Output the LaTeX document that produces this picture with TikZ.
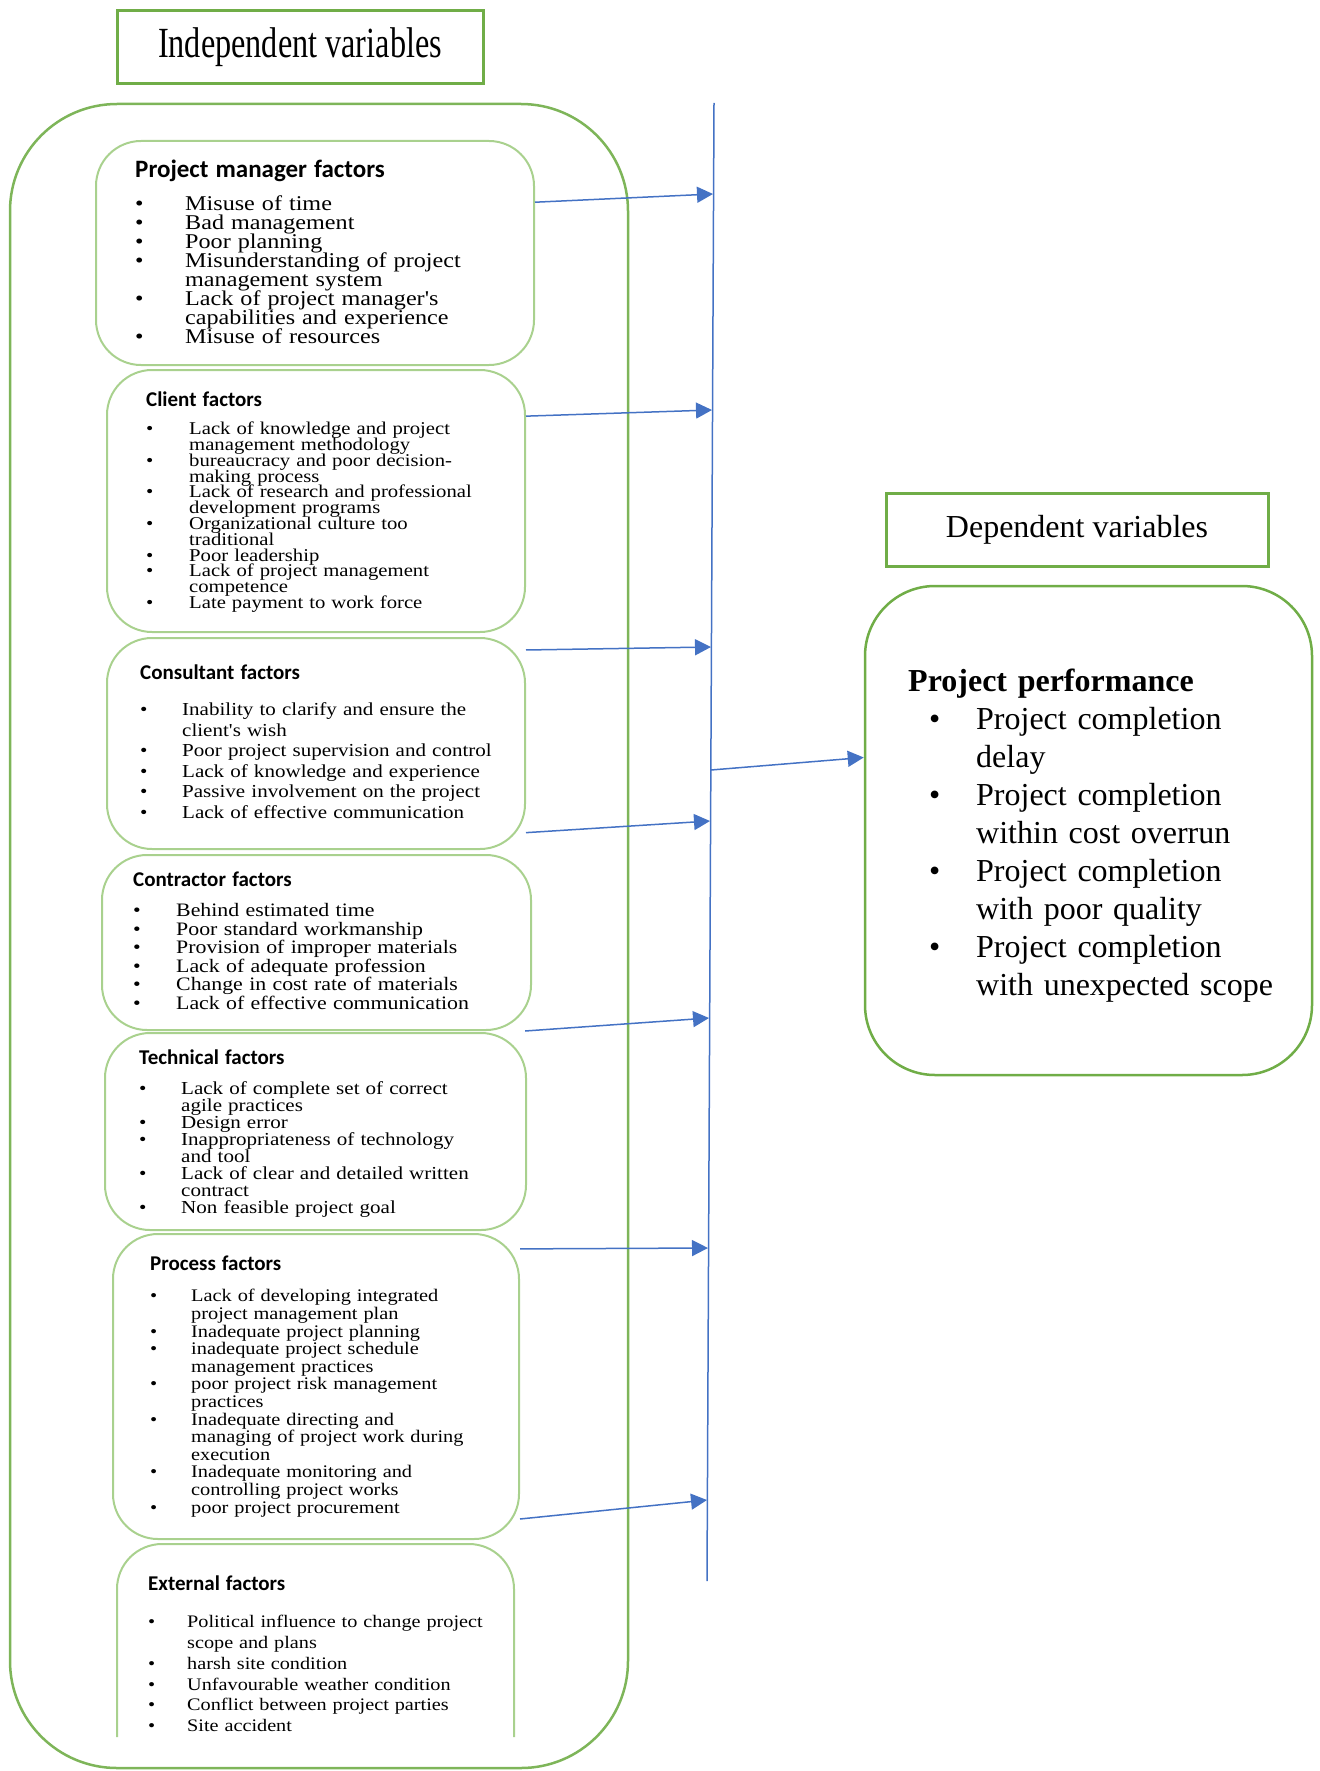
\documentclass[tikz,border=0pt]{standalone}
\usepackage{fontspec}
\setmainfont{Liberation Serif}
\newfontfamily\headfont{Carlito}
\newfontfamily\itemfont[FakeStretch=1.15]{Liberation Serif}
\newfontfamily\tallfont[FakeStretch=0.75]{Liberation Serif}
\usetikzlibrary{arrows.meta}
\definecolor{vargreen}{HTML}{70AD47}
\definecolor{palegreen}{HTML}{A9D18E}
\definecolor{linkblue}{HTML}{4472C4}
\newlength{\bulind}
\newlength{\bulpad}
\newcommand{\fitem}[1]{\par\hangindent=\bulind\hangafter=1\noindent\makebox[\bulind][l]{\hspace{\bulpad}\textbullet}#1\par}
\newcommand{\fhead}[3]{{\headfont\bfseries\fontsize{#1}{#1}\selectfont #2\par}\vspace{#3pt}}
\tikzset{
  varbox/.style={draw=vargreen, line width=3pt, minimum width=#1, minimum height=73pt, inner sep=0pt},
  factorbox/.style={draw=palegreen, line width=2pt, rounded corners=45pt, inner sep=0pt},
  factortext/.style n args={3}{anchor=north west, inner sep=0pt, text width=420pt,
    font=\itemfont\fontsize{#1}{#2}\selectfont\setlength{\bulind}{#3pt}\setlength{\bulpad}{0pt}\setlength{\parindent}{0pt}\setlength{\lineskiplimit}{-100pt}},
  link/.style={draw=linkblue, line width=1.5pt, -{Triangle[length=16pt,width=16pt]}},
}
\begin{document}
\begin{tikzpicture}[x=1pt,y=-1pt]
  \useasboundingbox (0,0) rectangle (1319,1771);
  \node[varbox=366pt, font=\tallfont\fontsize{43}{43}\selectfont] (indep) at (300,47.5) {Independent variables};
  \node[draw=vargreen!90, line width=2.5pt, rounded corners=107pt, minimum width=618pt, minimum height=1664pt] (factors) at (319,936) {};

  \node[factorbox, minimum width=438pt, minimum height=224pt] (pm) at (315,253) {};
  \node[factorbox, minimum width=418pt, minimum height=262pt] (client) at (316,501) {};
  \node[factorbox, minimum width=418pt, minimum height=211pt] (cons) at (316,743.5) {};
  \node[factorbox, minimum width=429pt, minimum height=175pt] (contr) at (316.5,942.5) {};
  \node[factorbox, minimum width=421pt, minimum height=197pt] (tech) at (315.5,1131.5) {};
  \node[factorbox, minimum width=406pt, minimum height=305pt] (proc) at (316,1386.5) {};
  \draw[draw=palegreen, line width=2pt, rounded corners=45pt] (117,1737) -- (117,1544) -- (514,1544) -- (514,1737);

  \node[factortext={21}{19}{50}] (pmtext) at (135,160) {\fhead{25}{Project manager factors}{14}
    \fitem{Misuse of time}
    \fitem{Bad management}
    \fitem{Poor planning}
    \fitem{Misunderstanding of project\newline management system}
    \fitem{Lack of project manager's\newline capabilities and experience}
    \fitem{Misuse of resources}};
  \node[factortext={18}{15.8}{43}] (clienttext) at (146,392) {\fhead{21}{Client factors}{12}
    \fitem{Lack of knowledge and project\newline management methodology}
    \fitem{bureaucracy and poor decision-\newline making process}
    \fitem{Lack of research and professional\newline development programs}
    \fitem{Organizational culture too\newline traditional}
    \fitem{Poor leadership}
    \fitem{Lack of project management\newline competence}
    \fitem{Late payment to work force}};
  \node[factortext={18.3}{20.6}{42}] (constext) at (140,665) {\fhead{21}{Consultant factors}{15}
    \fitem{Inability to clarify and ensure the\newline client's wish}
    \fitem{Poor project supervision and control}
    \fitem{Lack of knowledge and experience}
    \fitem{Passive involvement on the project}
    \fitem{Lack of effective communication}};
  \node[factortext={19}{18.5}{43}] (contrtext) at (133,872) {\fhead{21}{Contractor factors}{11.5}
    \fitem{Behind estimated time}
    \fitem{Poor standard workmanship}
    \fitem{Provision of improper materials}
    \fitem{Lack of adequate profession}
    \fitem{Change in cost rate of materials}
    \fitem{Lack of effective communication}};
  \node[factortext={18.3}{17}{42}] (techtext) at (139,1050) {\fhead{21}{Technical factors}{13}
    \fitem{Lack of complete set of correct\newline agile practices}
    \fitem{Design error}
    \fitem{Inappropriateness of technology\newline and tool}
    \fitem{Lack of clear and detailed written\newline contract}
    \fitem{Non feasible project goal}};
  \node[factortext={17.7}{17.6}{41}] (proctext) at (150,1256) {\fhead{21}{Process factors}{13.5}
    \fitem{Lack of developing integrated\newline project management plan}
    \fitem{Inadequate project planning}
    \fitem{inadequate project schedule\newline management practices}
    \fitem{poor project risk management\newline practices}
    \fitem{Inadequate directing and\newline managing of project work during\newline execution}
    \fitem{Inadequate monitoring and\newline controlling project works}
    \fitem{poor project procurement}};
  \node[factortext={17.6}{20.8}{39}] (exttext) at (148,1576) {\fhead{21}{External factors}{16}
    \fitem{Political influence to change project\newline scope and plans}
    \fitem{harsh site condition}
    \fitem{Unfavourable weather condition}
    \fitem{Conflict between project parties}
    \fitem{Site accident}};

  \coordinate (bustop) at (714,103);
  \coordinate (busbot) at (707,1581);
  \draw[draw=linkblue, line width=1.5pt] (bustop) -- (busbot);
  \coordinate (t1) at (713,194);
  \coordinate (t2) at (712,410);
  \coordinate (t3) at (711,647);
  \coordinate (t4) at (710,821);
  \coordinate (t5) at (709,1018);
  \coordinate (t6) at (708,1248);
  \coordinate (t7) at (707,1500);
  \coordinate (hub) at (711,770);
  \draw[link] (pm.13) -- (t1);
  \draw[link] (client.22) -- (t2);
  \draw[link] (cons.24) -- (t3);
  \draw[link] (cons.-23) -- (t4);
  \draw[link] (contr.-23) -- (t5);
  \draw[link] (proc.34) -- (t6);
  \draw[link] (proc.-33) -- (t7);

  \node[varbox=382pt, font=\fontsize{32}{38}\selectfont] (dep) at (1077,529.5) {Dependent variables};
  \node[draw=vargreen, line width=2.5pt, rounded corners=70pt, minimum width=447pt, minimum height=489pt] (perf) at (1088.5,830.5) {};
  \node[anchor=north west, inner sep=0pt, text width=400pt,
    font=\fontsize{32}{38}\selectfont\setlength{\bulind}{68pt}\setlength{\bulpad}{21pt}\setlength{\parindent}{0pt}]
    (perftext) at (908,669) {\textbf{Project performance}
    \fitem{Project completion\newline delay}
    \fitem{Project completion\newline within cost overrun}
    \fitem{Project completion\newline with poor quality}
    \fitem{Project completion\newline with unexpected scope}};
  \draw[link] (hub) -- (perf.162);
\end{tikzpicture}
\end{document}
